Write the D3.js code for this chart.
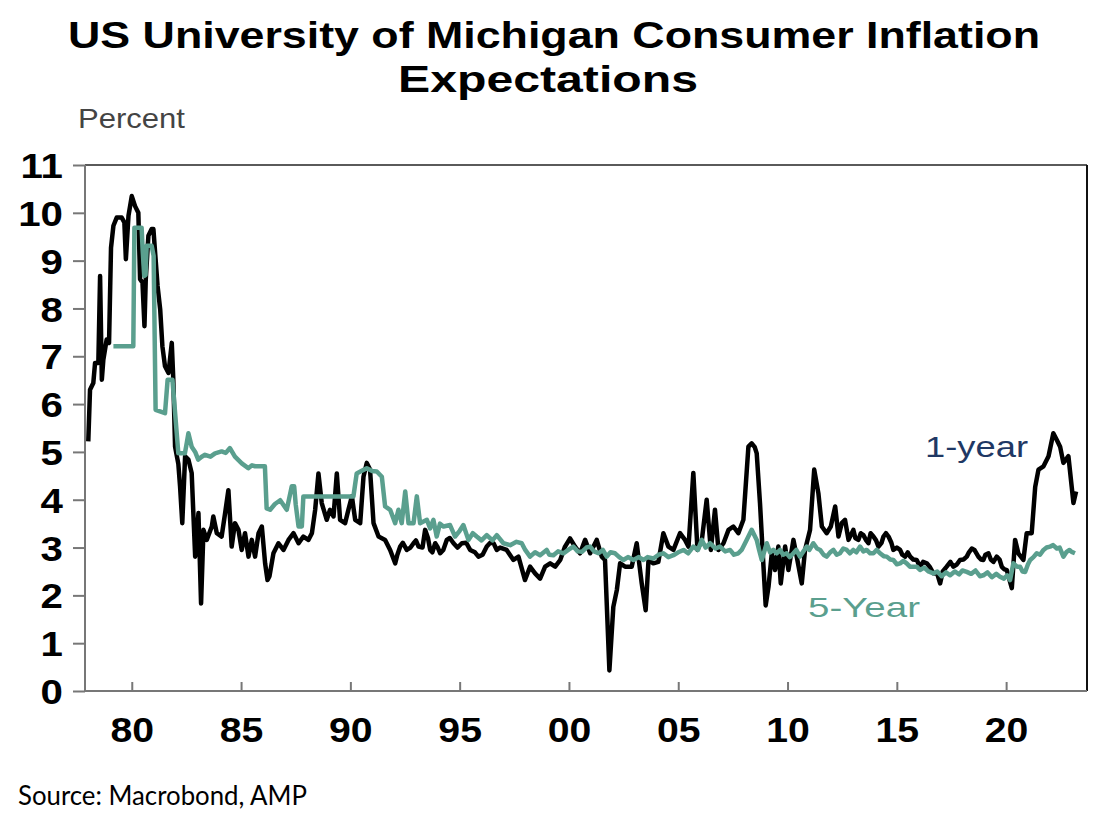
<!DOCTYPE html>
<html>
<head>
<meta charset="utf-8">
<script src="https://cdn.jsdelivr.net/npm/d3@7"></script>
<style>
    body { margin: 0; background: #fff; }
    #chart { width: 1106px; height: 830px; }
    .tick-label { font-family: "Liberation Sans", Arial, sans-serif; font-weight: bold; font-size: 35px; fill: #000; }
</style>
</head>
<body>
<div id="chart"></div>
<script>

// 1-year inflation expectations (decimal year, percent)
let oneYearDates = [
    1978.01, 1978.09, 1978.24, 1978.32, 1978.47, 1978.55, 1978.63, 1978.70, 1978.85, 1978.96,
    1979.05, 1979.16, 1979.31, 1979.54, 1979.66, 1979.73, 1979.85, 1980.00, 1980.15, 1980.30,
    1980.38, 1980.49, 1980.58, 1980.64, 1980.76, 1980.91, 1980.99, 1981.09, 1981.18, 1981.30,
    1981.40, 1981.52, 1981.68, 1981.83, 1981.90, 1981.98, 1982.13, 1982.21, 1982.31, 1982.44,
    1982.59, 1982.74, 1982.90, 1983.05, 1983.17, 1983.28, 1983.43, 1983.66, 1983.73, 1983.89,
    1984.11, 1984.27, 1984.42, 1984.57, 1984.72, 1984.88, 1985.03, 1985.18, 1985.34, 1985.49,
    1985.64, 1985.80, 1985.95, 1986.10, 1986.21, 1986.30, 1986.48, 1986.71, 1986.94, 1987.17,
    1987.40, 1987.63, 1987.85, 1988.08, 1988.24, 1988.39, 1988.54, 1988.69, 1988.92, 1989.07,
    1989.23, 1989.38, 1989.53, 1989.76, 1989.91, 1990.07, 1990.22, 1990.45, 1990.60, 1990.75,
    1990.90, 1991.06, 1991.29, 1991.59, 1991.82, 1992.05, 1992.28, 1992.58, 1992.89, 1993.12,
    1993.42, 1993.65, 1993.88, 1994.11, 1994.41, 1994.72, 1995.10, 1995.48, 1995.86, 1996.24,
    1996.55, 1996.85, 1997.15, 1997.46, 1997.69, 1997.99, 1998.22, 1998.45, 1998.68, 1998.91,
    1999.14, 1999.37, 1999.60, 1999.82, 2000.05, 2000.28, 2000.51, 2000.74, 2000.97, 2001.27,
    2001.50, 2001.65, 2001.85, 2002.03, 2002.19, 2002.34, 2002.57, 2002.87, 2003.10, 2003.33,
    2003.51, 2003.64, 2003.86, 2004.09, 2004.32, 2004.55, 2004.78, 2005.08, 2005.31, 2005.47,
    2005.69, 2005.88, 2006.08, 2006.30, 2006.49, 2006.68, 2006.84, 2007.07, 2007.30, 2007.52,
    2007.75, 2007.98, 2008.21, 2008.36, 2008.50, 2008.59, 2008.74, 2008.90, 2009.00, 2009.13,
    2009.28, 2009.43, 2009.58, 2009.69, 2009.89, 2010.04, 2010.27, 2010.45, 2010.65, 2010.80,
    2011.03, 2011.22, 2011.41, 2011.57, 2011.79, 2011.98, 2012.18, 2012.33, 2012.48, 2012.63,
    2012.79, 2013.01, 2013.24, 2013.47, 2013.70, 2013.93, 2014.16, 2014.39, 2014.62, 2014.84,
    2015.15, 2015.38, 2015.61, 2015.91, 2016.06, 2016.37, 2016.67, 2016.98, 2017.28, 2017.59,
    2017.89, 2018.20, 2018.43, 2018.73, 2018.96, 2019.19, 2019.42, 2019.57, 2019.80, 2020.03,
    2020.26, 2020.41, 2020.56, 2020.79, 2020.94, 2021.17, 2021.33, 2021.48, 2021.71, 2021.94,
    2022.16, 2022.32, 2022.47, 2022.62, 2022.85, 2023.00, 2023.08, 2023.20
];
let oneYearValues = [
    5.22, 6.30, 6.44, 6.86, 6.86, 8.68, 6.51, 6.93, 7.35, 7.28,
    9.27, 9.73, 9.90, 9.90, 9.80, 9.03, 9.94, 10.35, 10.14, 10.00,
    8.61, 8.54, 7.63, 8.61, 9.52, 9.66, 9.66, 9.03, 8.47, 7.98,
    7.21, 6.79, 6.65, 7.28, 6.51, 5.11, 4.75, 4.27, 3.51, 4.91,
    4.84, 4.56, 2.81, 3.72, 1.83, 3.37, 3.16, 3.44, 3.65, 3.30,
    3.23, 3.72, 4.20, 3.02, 3.51, 3.37, 2.95, 3.30, 2.81, 3.16,
    2.81, 3.30, 3.44, 2.67, 2.32, 2.40, 2.88, 3.09, 2.95, 3.16,
    3.30, 3.09, 3.23, 3.16, 3.30, 3.79, 4.55, 3.93, 3.58, 3.79,
    3.65, 4.55, 3.58, 3.51, 3.79, 4.07, 3.58, 3.51, 4.48, 4.77,
    4.63, 3.51, 3.23, 3.16, 2.95, 2.67, 3.02, 2.95, 3.09, 3.02,
    3.37, 2.95, 3.09, 2.88, 3.16, 3.09, 3.09, 2.95, 2.81, 3.02,
    3.09, 3.00, 2.95, 2.74, 2.81, 2.32, 2.60, 2.46, 2.35, 2.60,
    2.67, 2.60, 2.74, 3.02, 3.19, 3.02, 2.88, 3.16, 2.88, 3.16,
    2.81, 2.74, 0.43, 1.76, 2.11, 2.67, 2.60, 2.60, 3.09, 2.25,
    1.69, 2.74, 2.67, 2.70, 3.30, 3.02, 2.95, 3.30, 3.16, 3.02,
    4.56, 2.95, 3.16, 4.00, 2.95, 3.79, 2.95, 3.09, 3.37, 3.44,
    3.30, 3.58, 5.11, 5.18, 5.10, 4.97, 3.93, 2.60, 1.79, 2.18,
    2.88, 2.53, 3.02, 2.25, 3.02, 2.53, 3.16, 2.74, 2.25, 2.95,
    3.37, 4.63, 4.14, 3.44, 3.30, 3.44, 3.86, 3.23, 3.51, 3.58,
    3.16, 3.37, 3.16, 3.26, 3.09, 3.23, 3.02, 3.23, 3.23, 2.95,
    2.95, 2.81, 2.81, 2.74, 2.60, 2.67, 2.46, 2.25, 2.60, 2.60,
    2.74, 2.81, 2.98, 2.81, 2.74, 2.88, 2.70, 2.81, 2.60, 2.53,
    2.15, 3.16, 2.88, 2.74, 3.30, 3.30, 4.27, 4.63, 4.70, 4.91,
    5.39, 5.25, 5.11, 4.77, 4.91, 4.27, 3.93, 4.17
];

// extra in-between 1-year readings for the choppy mid-90s and mid-2010s stretches
let oneYearExtraDates = [
    1992.15, 1992.40, 1992.75, 1993.00, 1993.30, 1993.55, 1993.75, 1994.00, 1994.25, 1994.55,
    1994.90, 1995.30, 1995.70, 1996.05, 1996.40, 1996.70,
    2013.10, 2013.35, 2013.60, 2013.80, 2014.05, 2014.30, 2014.50, 2014.75, 2015.00, 2015.25,
    2015.50, 2015.75, 2016.20, 2016.50, 2016.85, 2017.10, 2017.45, 2017.75, 2018.05, 2018.30,
    2018.55, 2018.85, 2019.05, 2019.30, 2019.70, 2019.90
];
let oneYearExtraValues = [
    2.85, 3.10, 3.00, 3.15, 3.00, 3.20, 2.90, 3.00, 2.95, 3.20,
    3.00, 3.10, 2.90, 2.85, 3.10, 2.95,
    3.20, 3.30, 3.15, 3.30, 3.15, 3.10, 3.30, 3.10, 3.00, 2.85,
    2.90, 2.75, 2.70, 2.60, 2.45, 2.50, 2.70, 2.65, 2.75, 2.90,
    2.95, 2.75, 2.85, 2.75, 2.75, 2.55
];

// 5-year inflation expectations (decimal year, percent)
let fiveYearDates = [
    1979.16, 1980.07, 1980.12, 1980.45, 1980.50, 1980.57, 1980.63, 1980.68, 1980.91, 1981.00,
    1981.09, 1981.52, 1981.64, 1981.86, 1981.95, 1982.13, 1982.43, 1982.52, 1982.59, 1982.74,
    1982.90, 1983.04, 1983.20, 1983.35, 1983.60, 1983.81, 1984.11, 1984.30, 1984.49, 1984.72,
    1985.03, 1985.33, 1985.50, 1985.64, 1986.09, 1986.17, 1986.33, 1986.55, 1986.79, 1987.09,
    1987.32, 1987.43, 1987.50, 1987.63, 1987.78, 1987.85, 1990.14, 1990.29, 1990.50, 1990.75,
    1991.00, 1991.21, 1991.44, 1991.59, 1991.82, 1992.05, 1992.20, 1992.35, 1992.51, 1992.66,
    1992.89, 1993.04, 1993.19, 1993.50, 1993.65, 1993.80, 1993.95, 1994.10, 1994.26, 1994.56,
    1994.79, 1995.00, 1995.17, 1995.40, 1995.60, 1995.78, 1996.00, 1996.24, 1996.50, 1996.70,
    1997.00, 1997.31, 1997.60, 1997.84, 1998.00, 1998.22, 1998.45, 1998.68, 1998.98, 1999.10,
    1999.29, 1999.50, 1999.75, 2000.00, 2000.20, 2000.40, 2000.59, 2000.80, 2000.97, 2001.15,
    2001.35, 2001.55, 2001.73, 2001.90, 2002.11, 2002.30, 2002.49, 2002.70, 2002.95, 2003.20,
    2003.41, 2003.60, 2003.86, 2004.10, 2004.32, 2004.55, 2004.78, 2005.00, 2005.24, 2005.45,
    2005.69, 2005.90, 2006.08, 2006.25, 2006.46, 2006.70, 2006.91, 2007.15, 2007.37, 2007.55,
    2007.75, 2007.90, 2008.13, 2008.36, 2008.59, 2008.70, 2008.82, 2009.05, 2009.20, 2009.35,
    2009.50, 2009.66, 2009.80, 2009.96, 2010.10, 2010.27, 2010.40, 2010.57, 2010.70, 2010.88,
    2011.00, 2011.18, 2011.35, 2011.49, 2011.65, 2011.79, 2011.95, 2012.10, 2012.25, 2012.40,
    2012.55, 2012.71, 2012.85, 2013.01, 2013.15, 2013.32, 2013.47, 2013.62, 2013.78, 2013.93,
    2014.08, 2014.23, 2014.40, 2014.54, 2014.70, 2014.84, 2015.00, 2015.15, 2015.30, 2015.45,
    2015.60, 2015.76, 2015.91, 2016.06, 2016.25, 2016.45, 2016.67, 2016.85, 2017.05, 2017.25,
    2017.44, 2017.65, 2017.85, 2018.00, 2018.20, 2018.40, 2018.60, 2018.80, 2018.96, 2019.15,
    2019.35, 2019.55, 2019.72, 2019.90, 2020.05, 2020.18, 2020.33, 2020.50, 2020.64, 2020.75,
    2020.87, 2021.00, 2021.10, 2021.25, 2021.40, 2021.55, 2021.71, 2021.85, 2022.01, 2022.15,
    2022.32, 2022.45, 2022.62, 2022.77, 2022.90, 2023.00, 2023.15
];
let fiveYearValues = [
    7.21, 7.21, 9.69, 9.69, 9.20, 8.68, 8.70, 9.31, 9.31, 9.10,
    5.88, 5.81, 6.51, 6.51, 6.00, 4.97, 4.97, 5.20, 5.39, 5.11,
    5.00, 4.84, 4.90, 4.94, 4.90, 4.97, 5.01, 4.98, 5.08, 4.90,
    4.76, 4.66, 4.72, 4.70, 4.70, 3.82, 3.79, 3.91, 3.99, 3.79,
    4.28, 4.28, 3.90, 3.44, 3.44, 4.07, 4.07, 4.55, 4.60, 4.66,
    4.60, 4.59, 4.48, 3.86, 3.79, 3.51, 3.79, 3.51, 4.17, 3.51,
    3.51, 4.07, 3.51, 3.58, 3.40, 3.58, 3.23, 3.50, 3.44, 3.47,
    3.23, 3.35, 3.47, 3.16, 3.30, 3.23, 3.15, 3.26, 3.15, 3.26,
    3.09, 3.05, 3.12, 3.09, 2.95, 2.81, 2.90, 2.84, 2.95, 2.85,
    2.84, 2.92, 2.88, 2.96, 3.02, 2.92, 2.91, 3.00, 3.02, 2.92,
    2.88, 2.95, 2.81, 2.90, 2.88, 2.80, 2.74, 2.80, 2.74, 2.80,
    2.74, 2.80, 2.77, 2.85, 2.88, 2.80, 2.84, 2.90, 2.95, 2.88,
    3.02, 2.95, 3.16, 3.00, 3.09, 2.98, 3.02, 2.92, 2.95, 2.85,
    2.88, 2.95, 3.16, 3.37, 3.16, 2.95, 2.74, 3.09, 2.90, 2.95,
    2.88, 2.95, 2.85, 2.88, 2.80, 2.88, 2.95, 2.81, 2.90, 3.02,
    2.95, 3.09, 2.98, 2.95, 2.85, 2.81, 2.90, 2.95, 2.85, 2.88,
    2.98, 2.95, 2.88, 2.95, 2.90, 3.02, 2.92, 2.95, 2.88, 2.88,
    2.95, 2.88, 2.82, 2.81, 2.75, 2.74, 2.65, 2.67, 2.72, 2.67,
    2.60, 2.60, 2.60, 2.53, 2.58, 2.50, 2.46, 2.50, 2.40, 2.48,
    2.42, 2.50, 2.44, 2.52, 2.49, 2.45, 2.52, 2.40, 2.42, 2.48,
    2.38, 2.45, 2.39, 2.35, 2.42, 2.32, 2.67, 2.60, 2.60, 2.50,
    2.49, 2.65, 2.74, 2.80, 2.88, 2.85, 2.95, 3.00, 3.02, 3.05,
    2.98, 3.00, 2.81, 2.91, 2.95, 2.91, 2.88
];

// y axis ticks and x axis year ticks with their short labels
let yTicks = [0, 1, 2, 3, 4, 5, 6, 7, 8, 9, 10, 11];
let xTicks = [1980, 1985, 1990, 1995, 2000, 2005, 2010, 2015, 2020];
let xTickLabels = ["80", "85", "90", "95", "00", "05", "10", "15", "20"];


class LineVis {

    constructor(parentElement) {
        this.parentElement = parentElement;
        this.initVis();
    }

    initVis() {
        let vis = this;

        vis.margin = {top: 165, right: 19, bottom: 139, left: 85};
        vis.width = 1106 - vis.margin.left - vis.margin.right;
        vis.height = 830 - vis.margin.top - vis.margin.bottom;

        vis.root = d3.select("#" + vis.parentElement).append("svg")
            .attr("width", 1106)
            .attr("height", 830);

        // title, two lines
        let title = vis.root.append("g")
            .attr("class", "title")
            .style("font-family", "'Liberation Sans', Arial, sans-serif")
            .style("font-weight", "bold")
            .style("font-size", "36px")
            .attr("text-anchor", "middle");
        title.append("text")
            .attr("x", 554).attr("y", 48)
            .attr("textLength", 972).attr("lengthAdjust", "spacingAndGlyphs")
            .text("US University of Michigan Consumer Inflation");
        title.append("text")
            .attr("x", 548).attr("y", 92)
            .attr("textLength", 300).attr("lengthAdjust", "spacingAndGlyphs")
            .text("Expectations");

        vis.root.append("text")
            .attr("x", 78).attr("y", 128)
            .attr("textLength", 107).attr("lengthAdjust", "spacingAndGlyphs")
            .style("font-family", "'Liberation Sans', Arial, sans-serif")
            .style("font-size", "28px")
            .attr("fill", "#444")
            .text("Percent");

        vis.root.append("text")
            .attr("x", 18).attr("y", 805)
            .attr("textLength", 289).attr("lengthAdjust", "spacingAndGlyphs")
            .style("font-family", "Lato, 'Open Sans', sans-serif")
            .style("font-size", "26px")
            .attr("fill", "#000")
            .text("Source: Macrobond, AMP");

        vis.svg = vis.root.append("g")
            .attr("transform", `translate(${vis.margin.left}, ${vis.margin.top})`);

        // scales
        vis.x = d3.scaleLinear()
            .domain([1977.86, 2023.7])
            .range([0, vis.width]);

        vis.y = d3.scaleLinear()
            .domain([0, 11])
            .range([vis.height, 0]);

        // frame: top gray, right black
        vis.svg.append("line")
            .attr("x1", 0).attr("x2", vis.width)
            .attr("y1", 0).attr("y2", 0)
            .attr("stroke", "#5a5a5a").attr("stroke-width", 2);
        vis.svg.append("line")
            .attr("x1", vis.width).attr("x2", vis.width)
            .attr("y1", 0).attr("y2", vis.height)
            .attr("stroke", "#111").attr("stroke-width", 2);

        // axes
        vis.yAxisGroup = vis.svg.append("g")
            .attr("class", "axis y-axis")
            .call(d3.axisLeft(vis.y).tickValues(yTicks).tickSize(12).tickFormat(d3.format("d")));

        vis.xAxisGroup = vis.svg.append("g")
            .attr("class", "axis x-axis")
            .attr("transform", `translate(0, ${vis.height})`)
            .call(d3.axisBottom(vis.x).tickValues(xTicks).tickSize(-9)
                .tickFormat((d, i) => xTickLabels[i]));

        vis.svg.selectAll(".axis path, .axis line")
            .attr("stroke", "#777")
            .attr("stroke-width", 2);
        vis.svg.selectAll(".axis path").attr("fill", "none");
        vis.yAxisGroup.select(".domain").attr("d", `M0,0V${vis.height}`);
        vis.xAxisGroup.select(".domain").attr("d", `M0,0H${vis.width}`);

        vis.yAxisGroup.selectAll(".tick text")
            .attr("class", "tick-label")
            .attr("x", 0)
            .attr("dy", "0.36em")
            .attr("transform", "translate(-22,0) scale(1.15,1)");

        // x labels, stretched a little around their own tick
        vis.xAxisGroup.selectAll(".tick text")
            .attr("class", "tick-label")
            .attr("x", 0)
            .attr("y", 51)
            .attr("dy", 0)
            .attr("transform", "scale(1.12,1)");

        vis.wrangleData();
    }

    wrangleData() {
        let vis = this;

        vis.oneYear = oneYearDates.map((d, i) => ({date: d, value: oneYearValues[i]}))
            .concat(oneYearExtraDates.map((d, i) => ({date: d, value: oneYearExtraValues[i]})))
            .sort((a, b) => a.date - b.date);
        vis.fiveYear = fiveYearDates.map((d, i) => ({date: d, value: fiveYearValues[i]}));

        vis.updateVis();
    }

    updateVis() {
        let vis = this;

        let line = d3.line()
            .x(d => vis.x(d.date))
            .y(d => vis.y(d.value));

        vis.svg.append("path")
            .datum(vis.oneYear)
            .attr("fill", "none")
            .attr("stroke", "#000")
            .attr("stroke-width", 4.5)
            .attr("stroke-linejoin", "round")
            .attr("d", line);

        vis.svg.append("path")
            .datum(vis.fiveYear)
            .attr("fill", "none")
            .attr("stroke", "#5a9f8e")
            .attr("stroke-width", 4.5)
            .attr("stroke-linejoin", "round")
            .attr("d", line);

        // series labels
        vis.root.append("text")
            .attr("x", 925).attr("y", 457)
            .attr("textLength", 103).attr("lengthAdjust", "spacingAndGlyphs")
            .style("font-family", "'Liberation Sans', Arial, sans-serif")
            .style("font-size", "30px")
            .attr("fill", "#1f3864")
            .text("1-year");

        vis.root.append("text")
            .attr("x", 808).attr("y", 617)
            .attr("textLength", 112).attr("lengthAdjust", "spacingAndGlyphs")
            .style("font-family", "'Liberation Sans', Arial, sans-serif")
            .style("font-size", "28px")
            .attr("fill", "#5a9f8e")
            .text("5-Year");
    }
}

let myLineVis = new LineVis("chart");

</script>
</body>
</html>
